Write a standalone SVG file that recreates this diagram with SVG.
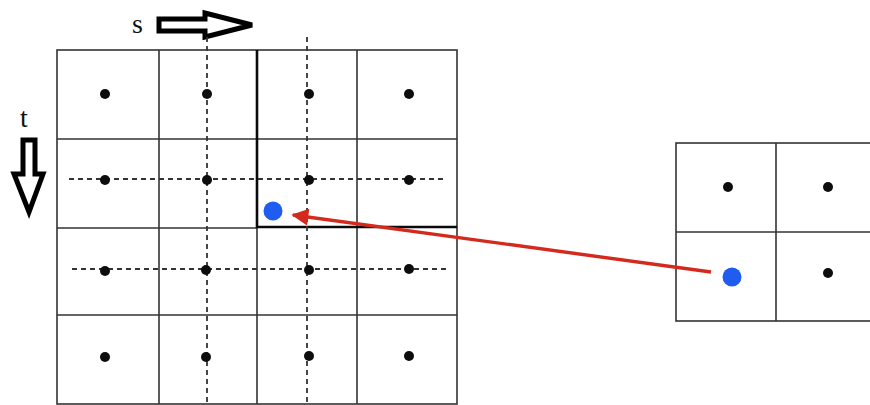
<svg xmlns="http://www.w3.org/2000/svg" width="870" height="405" viewBox="0 0 870 405">
<defs>
<style>
.cell{fill:none;stroke:#333;stroke-width:1.6}
.bold{fill:none;stroke:#0a0a0a;stroke-width:2.6}
.dash{fill:none;stroke:#333;stroke-width:1.8;stroke-dasharray:5 4}
.dot{fill:#0d0d0d}
.blue{fill:#1f5cf0}
.hollow{fill:#fff;stroke:#000;stroke-width:5;stroke-linejoin:miter}
.lbl{font-family:"Liberation Serif","Times New Roman",serif;font-size:28px;fill:#111}
</style>
<marker id="ah" viewBox="0 0 10 10" refX="9" refY="5" markerWidth="6.5" markerHeight="5" markerUnits="strokeWidth" orient="auto">
<path d="M0,0 L10,5 L0,10 z" fill="#d42a1e"/>
</marker>
</defs>
<rect width="870" height="405" fill="#fff"/>

<g id="axis-s">
<text class="lbl" x="132" y="33">s</text>
<polygon class="hollow" points="159,19 205,19 205,13 252,25 205,37 205,31 159,31"/>
</g>
<g id="axis-t">
<text class="lbl" x="20" y="127">t</text>
<polygon class="hollow" points="23,140 35,140 35,174 43,174 29,212 14,174 23,174"/>
</g>

<g id="left-grid">
<rect class="cell" x="57" y="50" width="400" height="354"/>
<line class="cell" x1="159" y1="50" x2="159" y2="404"/>
<line class="cell" x1="257" y1="228" x2="257" y2="404"/>
<line class="cell" x1="357" y1="50" x2="357" y2="404"/>
<line class="cell" x1="57" y1="139" x2="457" y2="139"/>
<line class="cell" x1="57" y1="228" x2="257" y2="228"/>
<line class="cell" x1="57" y1="315" x2="457" y2="315"/>
<polyline class="bold" points="257,50 257,227 457,227"/>
</g>

<g id="dashed-guides">
<line class="dash" x1="207" y1="37" x2="207" y2="405"/>
<line class="dash" x1="307" y1="37" x2="307" y2="405"/>
<line class="dash" x1="69" y1="179" x2="446" y2="179"/>
<line class="dash" x1="72" y1="269" x2="447" y2="269"/>
</g>

<g id="left-samples">
<circle class="dot" cx="105" cy="94" r="5"/>
<circle class="dot" cx="207" cy="94" r="5"/>
<circle class="dot" cx="309" cy="94" r="5"/>
<circle class="dot" cx="409" cy="94" r="5"/>
<circle class="dot" cx="105" cy="180" r="5"/>
<circle class="dot" cx="207" cy="180" r="5"/>
<circle class="dot" cx="309" cy="180" r="5"/>
<circle class="dot" cx="409" cy="180" r="5"/>
<circle class="dot" cx="105" cy="271" r="5"/>
<circle class="dot" cx="206" cy="270" r="5"/>
<circle class="dot" cx="309" cy="270" r="5"/>
<circle class="dot" cx="409" cy="269" r="5"/>
<circle class="dot" cx="105" cy="357" r="5"/>
<circle class="dot" cx="206" cy="357" r="5"/>
<circle class="dot" cx="309" cy="356" r="5"/>
<circle class="dot" cx="409" cy="356" r="5"/>
<circle class="blue" cx="273" cy="211" r="9.5"/>
</g>

<g id="right-grid">
<rect class="cell" x="676" y="143" width="200" height="178"/>
<line class="cell" x1="776" y1="143" x2="776" y2="321"/>
<line class="cell" x1="676" y1="232" x2="870" y2="232"/>
<circle class="dot" cx="728" cy="187" r="5"/>
<circle class="dot" cx="828" cy="187" r="5"/>
<circle class="dot" cx="828" cy="273" r="5"/>
<circle class="blue" cx="732" cy="277" r="9.5"/>
</g>

<g id="connectors">
<line x1="711" y1="272" x2="293" y2="215" stroke="#d42a1e" stroke-width="3.4" marker-end="url(#ah)"/>
</g>
</svg>
